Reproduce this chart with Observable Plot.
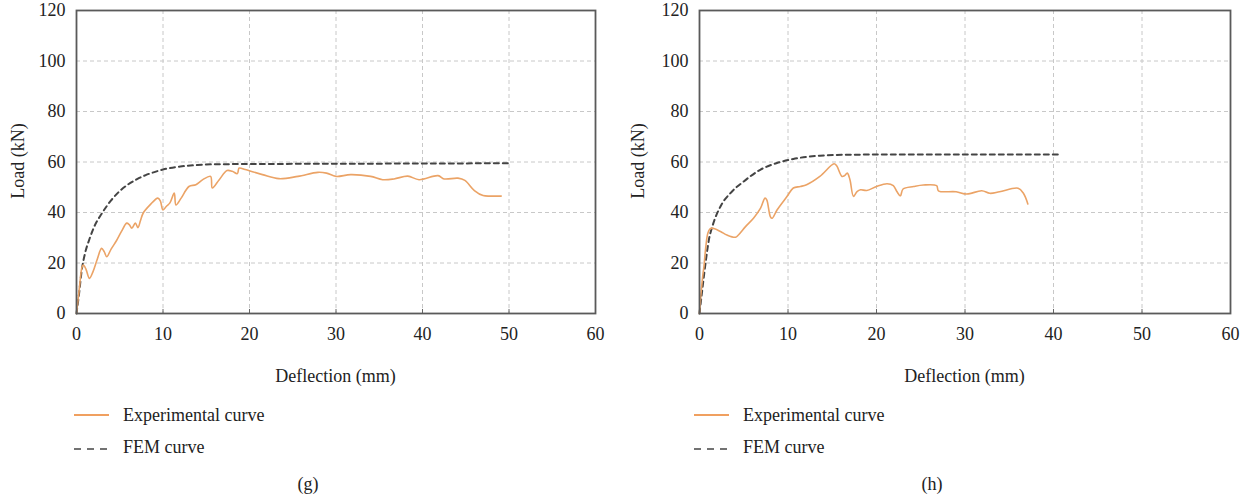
<!DOCTYPE html>
<html>
<head>
<meta charset="utf-8">
<script src="https://cdn.jsdelivr.net/npm/d3@7"></script>
<script src="https://cdn.jsdelivr.net/npm/@observablehq/plot@0.6"></script>
<style>
  html, body { margin: 0; padding: 0; background: #fff; }
  #root { position: relative; width: 1245px; height: 500px; font-family: "Liberation Serif", "DejaVu Serif", "Times New Roman", serif; color: #222; }
  .panel { position: absolute; top: 0; }
  .panel svg { overflow: visible; }
  .lbl { position: absolute; font-size: 18px; white-space: nowrap; line-height: 1; }
  .ylab { position: absolute; font-size: 18px; white-space: nowrap; line-height: 1; transform: translate(-50%, -50%) rotate(-90deg); }
  .cap { position: absolute; font-size: 18px; line-height: 1; transform: translateX(-50%); }
  .leg { position: absolute; font-size: 18px; line-height: 1; white-space: nowrap; }
  .legsw { position: absolute; }
</style>
</head>
<body>
<div id="root"></div>
<script>
// ---- data ----
const xTicks = [0, 10, 20, 30, 40, 50, 60];
const yTicks = [0, 20, 40, 60, 80, 100, 120];
const seriesNames = ["Experimental curve", "FEM curve"];
const panelCaptions = ["(g)", "(h)"];

// Panel (g)
const gExpX = [0, 0.3, 0.65, 0.8, 1.1, 1.5, 1.9, 2.4, 2.9, 3.2, 3.5, 4.0, 4.65, 5.2, 5.8, 6.1, 6.4, 6.8, 7.1, 7.4, 7.7, 8.5, 9.4, 9.7, 10.0, 10.4, 10.8, 11.3, 11.5, 12.1, 13.0, 13.8, 14.6, 15.5, 15.7, 16.5, 17.4, 18.0, 18.6, 18.8, 19.5, 21.5, 23.4, 25.6, 27.9, 28.9, 30.0, 31.7, 34.0, 35.4, 36.7, 38.3, 39.6, 41.8, 42.5, 44.1, 44.9, 46.0, 47.0, 48.0, 49.1];
const gExpY = [0, 9, 18.5, 19.2, 17.5, 13.9, 16.5, 21.5, 25.8, 24.5, 22.5, 25.5, 29.0, 32.5, 35.8, 35.2, 33.8, 35.8, 34.0, 36.8, 39.7, 43.0, 45.7, 44.5, 41.0, 42.5, 43.8, 47.7, 43.0, 45.7, 50.3, 51.0, 53.0, 54.3, 49.7, 53.0, 56.6, 56.3, 55.4, 57.6, 57.0, 55.0, 53.4, 54.3, 55.9, 55.6, 54.3, 55.0, 54.3, 53.0, 53.3, 54.4, 53.0, 54.6, 53.3, 53.6, 52.7, 48.7, 46.7, 46.5, 46.5];
const gFemX = [0, 0.3, 0.6, 1.0, 1.5, 2.0, 3.0, 4.0, 5.0, 6.0, 7.0, 8.0, 9.0, 10.0, 12.0, 14.0, 16.0, 20.0, 30.0, 40.0, 50.3];
const gFemY = [0, 8, 17, 24, 29.5, 34, 40, 44.8, 48.5, 51.2, 53.2, 54.8, 56, 57, 58.2, 58.8, 59.1, 59.2, 59.3, 59.4, 59.5];

// Panel (h)
const hExpX = [0, 0.2, 0.4, 0.5, 0.7, 0.94, 1.17, 1.43, 2.37, 3.1, 4.06, 4.4, 5.2, 6.1, 6.9, 7.4, 7.6, 8.0, 8.2, 8.76, 9.9, 10.6, 11.4, 12.1, 13.6, 15.2, 15.5, 16.1, 16.4, 16.7, 17.0, 17.4, 17.8, 18.2, 18.9, 20.0, 21.2, 21.9, 22.3, 22.7, 23.0, 24.2, 25.3, 26.8, 27.0, 29.0, 30.2, 31.9, 32.8, 33.9, 36.0, 36.6, 37.1];
const hExpY = [0, 9, 15.9, 18.5, 26, 31.8, 33.4, 33.8, 32.5, 31.1, 30.2, 31.1, 34.4, 37.7, 41.7, 45.7, 45.0, 38.4, 37.7, 41.0, 46.4, 49.7, 50.3, 51.0, 54.3, 59.3, 58.5, 54.3, 54.6, 55.6, 53.0, 46.4, 48.3, 49.0, 48.7, 50.3, 51.4, 50.6, 48.3, 46.6, 49.3, 50.3, 50.9, 50.6, 48.6, 48.2, 47.3, 48.6, 47.6, 48.2, 49.6, 47.6, 43.4];
const hFemX = [0, 0.3, 0.68, 1.05, 1.5, 2.37, 3.5, 5.0, 6.9, 8.76, 10.6, 13.6, 17.4, 25, 30, 40.8];
const hFemY = [0, 9, 19.9, 29, 35, 42.4, 47.7, 52.3, 57, 59.6, 61.2, 62.5, 62.9, 63, 63, 63];

const expColor = "#EBA366";
const femColor = "#444";
const fontStack = '"Liberation Serif", "DejaVu Serif", "Times New Roman", serif';

function rows(xs, ys) { return xs.map((x, i) => ({x, y: ys[i]})); }

function makePanel(exp, fem, opts) {
  return Plot.plot({
    width: opts.width, height: 345,
    marginLeft: opts.ml, marginRight: opts.mr, marginTop: opts.mt, marginBottom: 32,
    style: {fontFamily: fontStack, fontSize: "18px", color: "#222", background: "#fff", overflow: "visible"},
    x: {domain: [0, 60], ticks: xTicks},
    y: {domain: [0, 120], ticks: yTicks},
    marks: [
      Plot.gridX(xTicks.slice(1, -1), {stroke: "#c8c8c8", strokeOpacity: 1, strokeDasharray: "4,3"}),
      Plot.gridY(yTicks.slice(1, -1), {stroke: "#c8c8c8", strokeOpacity: 1, strokeDasharray: "4,3"}),
      Plot.ruleX(xTicks.slice(1, -1), {y1: 0, y2: 1.6, stroke: "#666", strokeWidth: 1}),
      Plot.axisX({ticks: xTicks, tickSize: 0, tickPadding: 14, label: null, fontFamily: fontStack}),
      Plot.axisY({ticks: yTicks, tickSize: 0, tickPadding: 11, label: null, fontFamily: fontStack}),
      Plot.line(fem, {x: "x", y: "y", stroke: femColor, strokeWidth: 2, strokeDasharray: "5,4", curve: "monotone-x"}),
      Plot.line(exp, {x: "x", y: "y", stroke: expColor, strokeWidth: 1.6, curve: "catmull-rom"}),
      Plot.frame({stroke: "#5a5a5a", strokeWidth: 1.8})
    ]
  });
}

const root = document.getElementById("root");

const panels = [
  {left: 0, width: 620, ml: 76, mr: 25, mt: 10, exp: rows(gExpX, gExpY), fem: rows(gFemX, gFemY), cap: panelCaptions[0], capX: 308},
  {left: 620, width: 625, ml: 79, mr: 15, mt: 10, exp: rows(hExpX, hExpY), fem: rows(hFemX, hFemY), cap: panelCaptions[1], capX: 312}
];

for (const p of panels) {
  const div = document.createElement("div");
  div.className = "panel";
  div.style.left = p.left + "px";
  div.appendChild(makePanel(p.exp, p.fem, p));
  root.appendChild(div);

  const plotCenter = p.left + p.ml + (p.width - p.ml - p.mr) / 2;

  const yl = document.createElement("div");
  yl.className = "ylab";
  yl.textContent = "Load (kN)";
  yl.style.left = (p.left + 18) + "px";
  yl.style.top = "161px";
  root.appendChild(yl);

  const xl = document.createElement("div");
  xl.className = "lbl";
  xl.textContent = "Deflection (mm)";
  xl.style.left = plotCenter + "px";
  xl.style.top = "367px";
  xl.style.transform = "translateX(-50%)";
  root.appendChild(xl);

  // legend
  const items = [
    {name: seriesNames[0], y: 415, ty: 406, stroke: "#F0A060", dash: null},
    {name: seriesNames[1], y: 449, ty: 438, stroke: "#444", dash: "7,6"}
  ];
  for (const it of items) {
    const sw = document.createElementNS("http://www.w3.org/2000/svg", "svg");
    sw.setAttribute("class", "legsw");
    sw.setAttribute("width", "40");
    sw.setAttribute("height", "6");
    sw.style.left = (p.left + 74) + "px";
    sw.style.top = (it.y - 3) + "px";
    const ln = document.createElementNS("http://www.w3.org/2000/svg", "line");
    ln.setAttribute("x1", 0); ln.setAttribute("x2", 35);
    ln.setAttribute("y1", 3); ln.setAttribute("y2", 3);
    ln.setAttribute("stroke", it.stroke);
    ln.setAttribute("stroke-width", it.dash ? 1.6 : 2.2);
    if (it.dash) ln.setAttribute("stroke-dasharray", it.dash);
    sw.appendChild(ln);
    root.appendChild(sw);

    const t = document.createElement("div");
    t.className = "leg";
    t.textContent = it.name;
    t.style.left = (p.left + 123) + "px";
    t.style.top = it.ty + "px";
    root.appendChild(t);
  }

  const cap = document.createElement("div");
  cap.className = "cap";
  cap.textContent = p.cap;
  cap.style.left = (p.left + p.capX) + "px";
  cap.style.top = "475px";
  root.appendChild(cap);
}
</script>
</body>
</html>
